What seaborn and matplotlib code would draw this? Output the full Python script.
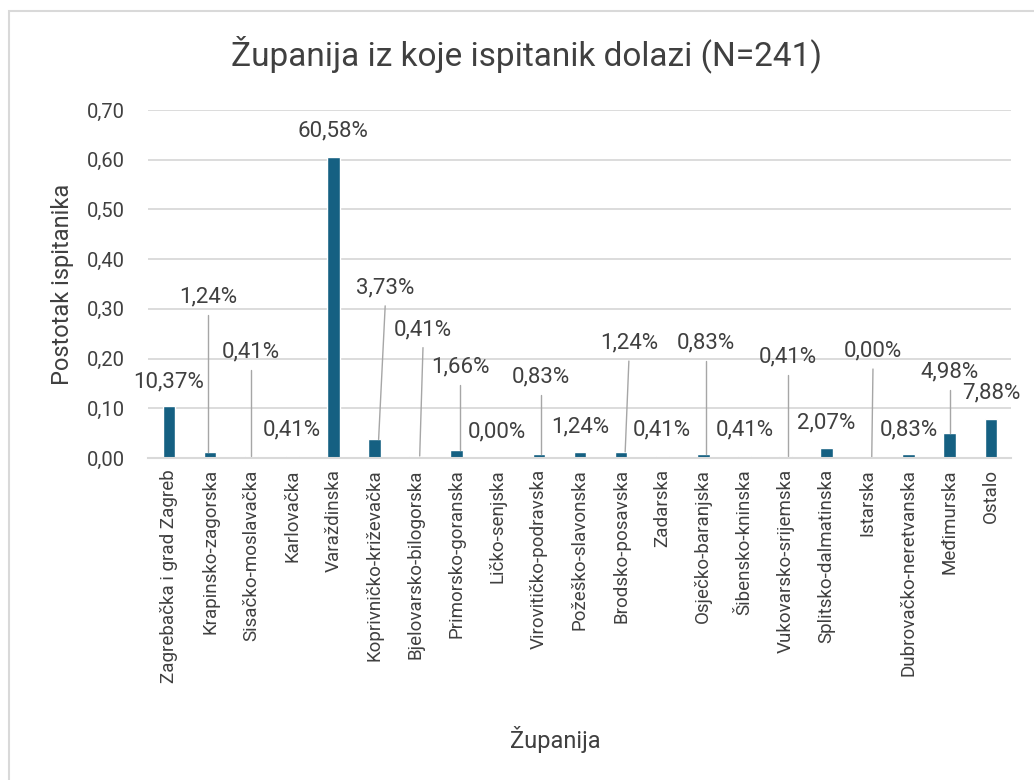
import seaborn as sns
import matplotlib.pyplot as plt
from matplotlib.patches import Rectangle

zupanije = [
    'Zagrebačka i grad Zagreb', 'Krapinsko-zagorska', 'Sisačko-moslavačka',
    'Karlovačka', 'Varaždinska', 'Koprivničko-križevačka', 'Bjelovarsko-bilogorska',
    'Primorsko-goranska', 'Ličko-senjska', 'Virovitičko-podravska',
    'Požeško-slavonska', 'Brodsko-posavska', 'Zadarska', 'Osječko-baranjska',
    'Šibensko-kninska', 'Vukovarsko-srijemska', 'Splitsko-dalmatinska',
    'Istarska', 'Dubrovačko-neretvanska', 'Međimurska', 'Ostalo',
]
postotak = [
    0.1037, 0.0124, 0.0041, 0.0041, 0.6058, 0.0373, 0.0041, 0.0166, 0.0000,
    0.0083, 0.0124, 0.0124, 0.0041, 0.0083, 0.0041, 0.0041, 0.0207, 0.0000,
    0.0083, 0.0498, 0.0788,
]
y_ticks = [0.0, 0.1, 0.2, 0.3, 0.4, 0.5, 0.6, 0.7]

# where excel put the data labels (x in category units, y in axis units)
label_x = [-0.02, 0.95, 2.0, 2.99, 3.99, 5.26, 6.18, 7.08, 7.98, 9.05, 10.0,
           11.19, 11.99, 13.06, 14.0, 15.06, 15.99, 17.13, 18.0, 19.0, 20.0]
label_y = [0.153, 0.324, 0.213, 0.056, 0.658, 0.342, 0.258, 0.183, 0.052, 0.163, 0.062,
           0.231, 0.056, 0.231, 0.056, 0.203, 0.070, 0.215, 0.056, 0.173, 0.131]
leader = [1, 2, 5, 6, 7, 9, 11, 13, 15, 17, 19]

bar_color = '#156082'
text_color = '#404040'
grid_color = '#D9D9D9'

sns.set_style('white')
plt.rcParams['font.family'] = ['Roboto', 'DejaVu Sans']

fig = plt.figure(figsize=(10.34, 7.8), dpi=100)
ax = fig.add_axes([0.1436, 0.4128, 0.8346, 0.4462])

sns.barplot(x=zupanije, y=postotak, color=bar_color, width=0.31,
            saturation=1, ax=ax)

ax.set_xlim(-0.5, len(zupanije) - 0.5)
ax.set_ylim(0, 0.7)
ax.set_yticks(y_ticks)
ax.set_yticklabels([f'{v:.2f}'.replace('.', ',') for v in y_ticks])
ax.yaxis.grid(True, color=grid_color, linewidth=1.3)
ax.set_axisbelow(True)
for s in ['top', 'right', 'left']:
    ax.spines[s].set_visible(False)
ax.spines['bottom'].set_color(grid_color)
ax.spines['bottom'].set_linewidth(1.5)
ax.tick_params(axis='y', length=0, pad=17, labelsize=14.5, labelcolor=text_color)
ax.tick_params(axis='x', length=0, pad=8, labelsize=13.5, labelcolor=text_color,
               labelrotation=90)

for i, v in enumerate(postotak):
    txt = f'{v * 100:.2f}%'.replace('.', ',')
    ax.text(label_x[i], label_y[i], txt, ha='center', va='center',
            fontsize=16, color=text_color, clip_on=False)
    if i in leader:
        end_x = i + max(-0.1, min(0.1, label_x[i] - i))
        ax.plot([label_x[i], end_x], [label_y[i] - 0.036, v],
                color='#A6A6A6', linewidth=1, clip_on=False)

ax.set_xlabel('Županija', fontsize=17, color=text_color)
ax.xaxis.set_label_coords(0.471, -0.77)
ax.set_ylabel('Postotak ispitanika', fontsize=17, color=text_color)
ax.yaxis.set_label_coords(-0.086, 0.5)

fig.text(0.509, 0.931, 'Županija iz koje ispitanik dolazi (N=241)',
         ha='center', va='center', fontsize=24, color=text_color)

fig.add_artist(Rectangle((9 / 1034, -0.1), 1.2, 0.1 + 1 - 11 / 780,
                         transform=fig.transFigure, fill=False,
                         edgecolor=grid_color, linewidth=1.5))

plt.savefig('out.png', dpi=100)
plt.close()
